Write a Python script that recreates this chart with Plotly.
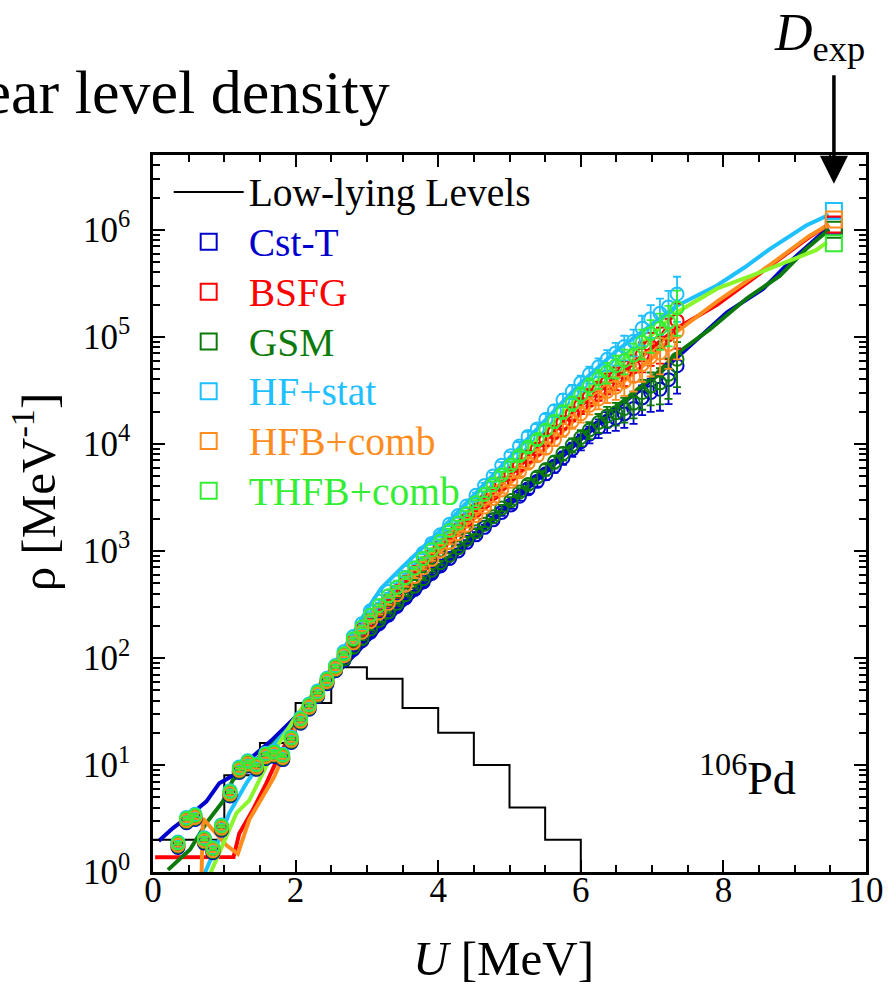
import plotly.graph_objects as go

FONT = "Liberation Serif"

# ---------------- data ----------------
# Low-lying discrete levels (step histogram, 0.5 MeV bins), left bin edges
U_levels = [0.0, 0.5, 1.0, 1.5, 2.0, 2.5, 3.0, 3.5, 4.0, 4.5, 5.0, 5.5, 6.0]
rho_levels = [2, 2, 8, 16, 38, 82, 64, 34, 20, 10, 4, 2, 0.01]

# Experimental (Oslo) excitation energies, MeV
U_exp = [0.35, 0.47, 0.59, 0.72, 0.84, 0.96, 1.08, 1.21, 1.33, 1.45, 1.58, 1.70,
         1.82, 1.94, 2.07, 2.19, 2.31, 2.44, 2.56, 2.68, 2.81, 2.93, 3.05, 3.17,
         3.30, 3.42, 3.54, 3.67, 3.79, 3.91, 4.03, 4.16, 4.28, 4.40, 4.53, 4.65,
         4.77, 4.89, 5.02, 5.14, 5.26, 5.39, 5.51, 5.63, 5.75, 5.88, 6.00, 6.12,
         6.25, 6.37, 6.49, 6.61, 6.74, 6.86, 6.98, 7.11, 7.23, 7.35]

# log10(rho) of experimental points normalised with each model
log_exp_cst = [0.23, 0.46, 0.49, 0.27, 0.18, 0.39, 0.71, 0.93, 0.99, 0.96, 1.06, 1.08,
               1.05, 1.21, 1.39, 1.52, 1.64, 1.76, 1.88, 1.98, 2.08, 2.16, 2.24, 2.32,
               2.40, 2.48, 2.56, 2.64, 2.71, 2.79, 2.86, 2.93, 3.00, 3.08, 3.15, 3.22,
               3.29, 3.36, 3.43, 3.51, 3.58, 3.65, 3.72, 3.79, 3.87, 3.95, 4.02, 4.09,
               4.15, 4.21, 4.24, 4.28, 4.33, 4.43, 4.48, 4.51, 4.60, 4.73]
log_exp_bsfg = [0.26, 0.49, 0.52, 0.30, 0.21, 0.42, 0.74, 0.96, 1.02, 0.99, 1.09, 1.11,
                1.08, 1.24, 1.42, 1.55, 1.67, 1.79, 1.91, 2.03, 2.15, 2.26, 2.36, 2.45,
                2.54, 2.62, 2.71, 2.80, 2.88, 2.96, 3.04, 3.13, 3.20, 3.29, 3.38, 3.46,
                3.54, 3.63, 3.72, 3.80, 3.88, 3.95, 4.04, 4.11, 4.20, 4.28, 4.36, 4.44,
                4.50, 4.57, 4.62, 4.67, 4.72, 4.83, 4.91, 4.95, 5.02, 5.15]
log_exp_gsm = [0.24, 0.47, 0.50, 0.28, 0.19, 0.40, 0.72, 0.94, 1.00, 0.97, 1.07, 1.09,
               1.06, 1.22, 1.40, 1.53, 1.65, 1.77, 1.89, 1.99, 2.10, 2.18, 2.27, 2.35,
               2.43, 2.51, 2.59, 2.67, 2.74, 2.82, 2.89, 2.96, 3.03, 3.11, 3.18, 3.25,
               3.32, 3.40, 3.47, 3.55, 3.62, 3.69, 3.76, 3.83, 3.91, 3.99, 4.06, 4.13,
               4.20, 4.26, 4.29, 4.33, 4.38, 4.48, 4.54, 4.57, 4.65, 4.79]
log_exp_hf = [0.28, 0.51, 0.54, 0.32, 0.23, 0.44, 0.76, 0.98, 1.04, 1.01, 1.11, 1.13,
              1.10, 1.26, 1.44, 1.57, 1.69, 1.81, 1.93, 2.06, 2.20, 2.32, 2.44, 2.53,
              2.62, 2.71, 2.80, 2.89, 2.98, 3.07, 3.15, 3.25, 3.33, 3.42, 3.52, 3.61,
              3.70, 3.80, 3.89, 3.98, 4.07, 4.14, 4.23, 4.31, 4.41, 4.49, 4.57, 4.65,
              4.72, 4.79, 4.85, 4.91, 4.96, 5.08, 5.17, 5.22, 5.28, 5.40]
log_exp_hfb = [0.25, 0.48, 0.51, 0.29, 0.20, 0.41, 0.73, 0.95, 1.01, 0.98, 1.08, 1.10,
               1.07, 1.23, 1.41, 1.54, 1.66, 1.78, 1.90, 2.02, 2.14, 2.24, 2.34, 2.42,
               2.51, 2.59, 2.68, 2.76, 2.84, 2.92, 3.00, 3.08, 3.16, 3.24, 3.33, 3.41,
               3.49, 3.57, 3.65, 3.74, 3.82, 3.89, 3.96, 4.04, 4.13, 4.21, 4.28, 4.36,
               4.42, 4.49, 4.53, 4.58, 4.63, 4.74, 4.81, 4.85, 4.93, 5.05]
log_exp_thfb = [0.27, 0.50, 0.53, 0.31, 0.22, 0.43, 0.75, 0.97, 1.03, 1.00, 1.10, 1.12,
                1.09, 1.25, 1.43, 1.56, 1.68, 1.80, 1.92, 2.04, 2.18, 2.29, 2.40, 2.49,
                2.58, 2.66, 2.75, 2.84, 2.93, 3.01, 3.09, 3.19, 3.26, 3.35, 3.45, 3.53,
                3.62, 3.71, 3.80, 3.89, 3.97, 4.04, 4.13, 4.21, 4.30, 4.38, 4.46, 4.54,
                4.61, 4.67, 4.73, 4.78, 4.83, 4.95, 5.03, 5.08, 5.14, 5.27]
# relative uncertainty of the experimental points
rel_err = [0.03] * 30 + [0.04, 0.04, 0.05, 0.05, 0.06, 0.06, 0.07, 0.07, 0.08, 0.09,
                         0.10, 0.11, 0.12, 0.13, 0.14, 0.15, 0.17, 0.18, 0.20, 0.22,
                         0.24, 0.26, 0.28, 0.31, 0.34, 0.37, 0.41, 0.45]

# Model curves: (U, log10 rho)
U_cst = [0.08, 0.28, 0.52, 0.75, 0.93, 1.17, 1.40, 1.68, 1.91, 2.2, 2.5, 3.0, 3.5, 4.0,
         4.5, 5.0, 5.5, 6.0, 6.5, 7.0, 7.49, 8.05, 8.56, 8.93, 9.37, 9.48]
log_cst = [0.29, 0.41, 0.53, 0.66, 0.83, 0.92, 1.08, 1.24, 1.39, 1.58, 1.80, 2.15, 2.48,
           2.80, 3.12, 3.43, 3.73, 4.04, 4.33, 4.60, 4.89, 5.23, 5.45, 5.70, 5.96, 6.01]
U_bsfg = [0.03, 0.5, 1.13, 1.21, 1.40, 1.59, 1.72, 2.0, 2.5, 3.0, 3.5, 4.0, 4.5, 5.0,
          5.5, 6.0, 6.5, 7.0, 7.35, 7.91, 8.65, 9.2, 9.48]
log_bsfg = [0.137, 0.137, 0.14, 0.36, 0.58, 0.83, 1.02, 1.38, 1.86, 2.33, 2.67, 3.02,
            3.35, 3.70, 4.03, 4.36, 4.62, 4.90, 5.08, 5.30, 5.66, 5.93, 6.05]
U_gsm = [0.21, 0.52, 0.75, 0.98, 1.12, 1.5, 2.0, 2.5, 3.0, 3.5, 4.0, 4.5, 5.0, 5.5, 6.0,
         6.5, 7.0, 7.40, 7.81, 8.33, 8.79, 9.16, 9.48]
log_gsm = [0.02, 0.21, 0.46, 0.66, 0.86, 1.08, 1.40, 1.83, 2.20, 2.52, 2.85, 3.15, 3.46,
           3.76, 4.07, 4.35, 4.62, 4.87, 5.07, 5.36, 5.57, 5.82, 6.00]
U_hf = [0.70, 0.89, 1.07, 1.31, 1.49, 1.6, 2.0, 2.5, 2.8, 3.0, 3.2, 3.5, 4.0, 4.5, 5.0,
        5.5, 6.0, 6.5, 7.0, 7.35, 7.91, 8.3, 8.65, 9.16, 9.48]
log_hf = [-0.05, 0.24, 0.55, 0.83, 1.00, 1.12, 1.42, 1.90, 2.22, 2.45, 2.65, 2.85, 3.17,
          3.52, 3.88, 4.22, 4.57, 4.87, 5.12, 5.29, 5.48, 5.65, 5.82, 6.04, 6.14]
U_hfb = [0.68, 0.70, 1.03, 1.19, 1.35, 1.70, 2.0, 2.5, 3.0, 3.5, 4.0, 4.5, 5.0, 5.5,
         6.0, 6.5, 7.0, 7.35, 7.91, 8.65, 9.2, 9.48]
log_hfb = [-0.05, 0.50, 0.25, 0.17, 0.49, 0.89, 1.35, 1.86, 2.30, 2.64, 2.98, 3.30, 3.63,
           3.95, 4.28, 4.53, 4.80, 5.05, 5.33, 5.67, 5.94, 6.05]
U_thfb = [0.78, 0.98, 1.17, 1.35, 1.49, 1.68, 1.86, 2.0, 2.5, 3.0, 3.5, 4.0, 4.5, 5.0,
          5.5, 6.0, 6.5, 7.0, 7.35, 7.91, 8.47, 8.93, 9.30, 9.45]
log_thfb = [-0.05, 0.27, 0.55, 0.67, 0.86, 1.11, 1.30, 1.45, 1.90, 2.37, 2.73, 3.07, 3.43,
            3.79, 4.12, 4.46, 4.74, 5.02, 5.23, 5.45, 5.59, 5.71, 5.81, 5.88]

# Level density at the neutron separation energy from D_exp
U_dexp = 9.55
rho_dexp = {"Cst-T": 1.08e6, "BSFG": 1.12e6, "GSM": 1.0e6,
            "HF+stat": 1.5e6, "HFB+comb": 1.25e6, "THFB+comb": 7.5e5}

model_names = ["Cst-T", "BSFG", "GSM", "HF+stat", "HFB+comb", "THFB+comb"]
model_colors = ["#0000CC", "#FF0000", "#0B7A0B", "#1EC0FF", "#FF8C1E", "#33EE33"]
line_colors = ["#0000CC", "#FF0000", "#0B7A0B", "#1EC0FF", "#FF8C1E", "#8AF52A"]
exp_sets = [log_exp_cst, log_exp_bsfg, log_exp_gsm, log_exp_hf, log_exp_hfb, log_exp_thfb]
curves = [(U_cst, log_cst), (U_bsfg, log_bsfg), (U_gsm, log_gsm),
          (U_hf, log_hf), (U_hfb, log_hfb), (U_thfb, log_thfb)]

y_tickvals = [1, 10, 100, 1e3, 1e4, 1e5, 1e6]
y_ticktext = ["10<sup>0</sup>", "10<sup>1</sup>", "10<sup>2</sup>", "10<sup>3</sup>",
              "10<sup>4</sup>", "10<sup>5</sup>", "10<sup>6</sup>"]
x_tickvals = [0, 2, 4, 6, 8, 10]

LEG_TXT = "font-size:39.5px"

# ---------------- figure ----------------
fig = go.Figure()

fig.add_trace(go.Scatter(
    x=U_levels, y=rho_levels, mode="lines", line=dict(color="black", width=2, shape="hv"),
    name=f"<span style='{LEG_TXT}'>Low-lying Levels</span>", showlegend=True))

for (u, lg), c in zip(curves, line_colors):
    fig.add_trace(go.Scatter(x=u, y=[10 ** v for v in lg], mode="lines",
                             line=dict(color=c, width=4), showlegend=False,
                             hoverinfo="skip"))

for lg, c in zip(exp_sets, model_colors):
    ys = [10 ** v for v in lg]
    fig.add_trace(go.Scatter(
        x=U_exp, y=ys, mode="markers",
        marker=dict(symbol="circle-open", size=13, color=c, line=dict(width=2, color=c)),
        error_y=dict(type="data", array=[y * e for y, e in zip(ys, rel_err)],
                     color=c, thickness=1.8, width=4),
        showlegend=False))

for n, c in zip(model_names, model_colors):
    fig.add_trace(go.Scatter(
        x=[U_dexp], y=[rho_dexp[n]], mode="markers",
        marker=dict(symbol="square-open", size=16, color=c, line=dict(width=2, color=c)),
        name=f"<span style='color:{c};{LEG_TXT}'>{n}</span>"))

axis_common = dict(showline=True, linewidth=2.5, linecolor="black", mirror="allticks",
                   ticks="inside", ticklen=12, tickwidth=2, tickcolor="black",
                   showgrid=False, zeroline=False,
                   tickfont=dict(family=FONT, size=35, color="black"))

fig.update_layout(
    width=896, height=988,
    margin=dict(l=153, r=26, t=155, b=116),
    paper_bgcolor="white", plot_bgcolor="white",
    font=dict(family=FONT, color="black"),
    xaxis=dict(range=[0, 10], tickvals=x_tickvals, ticktext=[str(v) for v in x_tickvals],
               minor=dict(dtick=0.5, ticks="inside", ticklen=7, tickwidth=2, tickcolor="black"),
               ticklabelstandoff=-15,
               **axis_common),
    yaxis=dict(type="log", range=[0, 6.699], tickvals=y_tickvals, ticktext=y_ticktext,
               minor=dict(dtick="D1", ticks="inside", ticklen=7, tickwidth=2, tickcolor="black"),
               ticklabelstandoff=13,
               **axis_common),
    legend=dict(x=0.022, y=0.99, xanchor="left", yanchor="top",
                bgcolor="rgba(0,0,0,0)", font=dict(family=FONT, size=36, color="black"),
                itemwidth=70, tracegroupgap=0),
    showlegend=True,
)

# axis titles
fig.add_annotation(xref="paper", yref="paper", x=0.491, y=-0.12, xanchor="center",
                   yanchor="middle", text="<i>U</i> [MeV]", showarrow=False,
                   font=dict(family=FONT, size=49, color="black"))
fig.add_annotation(xref="paper", yref="paper", x=-0.165, y=0.53, xanchor="center",
                   yanchor="middle", text="ρ [MeV<sup>-1</sup>]", textangle=-90,
                   showarrow=False, font=dict(family=FONT, size=49, color="black"))

fig.add_annotation(xref="paper", yref="paper", x=0.3347, y=1.088, xanchor="right",
                   yanchor="middle", text="Nuclear level density", showarrow=False,
                   font=dict(family=FONT, size=62, color="black"))
fig.add_annotation(x=U_dexp, y=6.43, xref="x", yref="y", ax=0, ay=-110, text="",
                   showarrow=True, arrowhead=2, arrowsize=1.6, arrowwidth=3.5,
                   arrowcolor="black")
fig.add_annotation(xref="paper", yref="paper", x=0.935, y=1.165, xanchor="center",
                   yanchor="middle", text="<i>D</i><sub>exp</sub>", showarrow=False,
                   font=dict(family=FONT, size=52, color="black"))
fig.add_annotation(xref="paper", yref="paper", x=0.905, y=0.135, xanchor="right",
                   yanchor="middle", text="<sup>106</sup>Pd", showarrow=False,
                   font=dict(family=FONT, size=46, color="black"))

fig.write_html("out.html")
